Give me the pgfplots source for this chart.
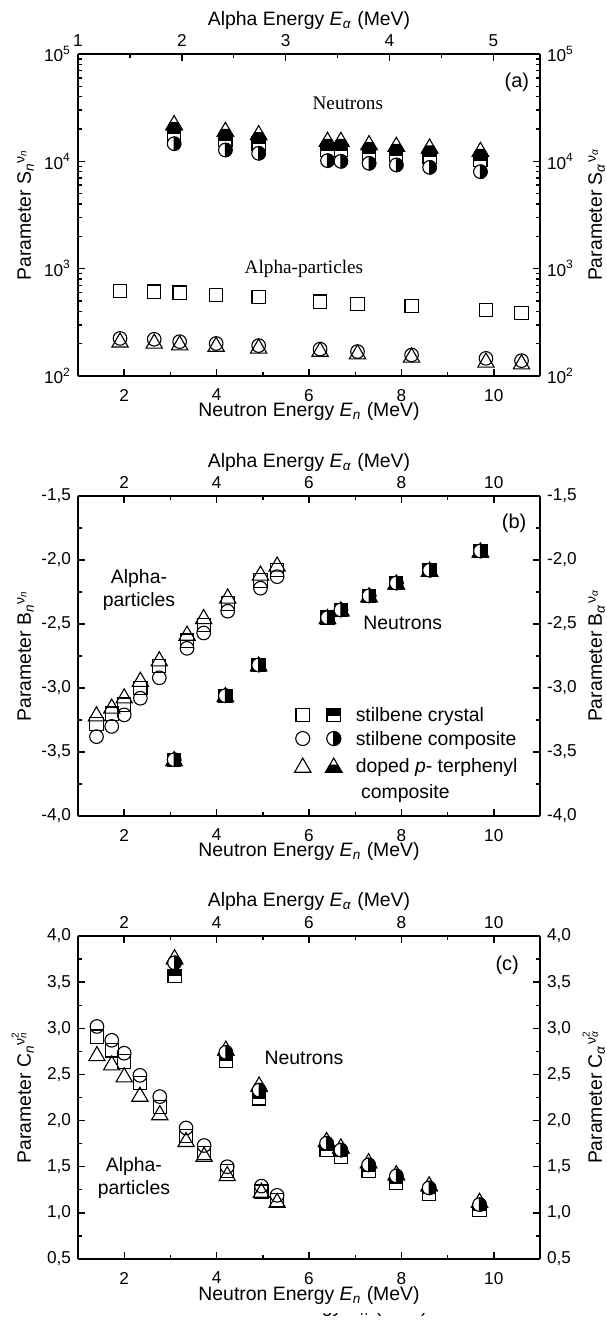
\documentclass[border=0pt]{standalone}
\usepackage{fontspec}
\setmainfont{Liberation Sans}
\newfontfamily\serif{Liberation Serif}
\usepackage{pgfplots}
\pgfplotsset{compat=1.18}
\usetikzlibrary{plotmarks}

\newcommand{\lbl}{\fontsize{9.7}{11.6}\selectfont}
\newcommand{\tck}{\fontsize{8.6}{10}\selectfont}

% half filled marks for the neutron data
\pgfdeclareplotmark{sqhalf}{%
  \pgfsetfillcolor{white}%
  \pgfpathrectangle{\pgfqpoint{-\pgfplotmarksize}{-\pgfplotmarksize}}{\pgfqpoint{2\pgfplotmarksize}{2\pgfplotmarksize}}%
  \pgfusepathqfillstroke
  \pgfsetfillcolor{black}%
  \pgfpathrectangle{\pgfqpoint{-\pgfplotmarksize}{0pt}}{\pgfqpoint{2\pgfplotmarksize}{\pgfplotmarksize}}%
  \pgfusepathqfillstroke
}
\pgfdeclareplotmark{cirhalf}{%
  \pgfsetfillcolor{white}%
  \pgfpathcircle{\pgfpointorigin}{\pgfplotmarksize}%
  \pgfusepathqfillstroke
  \pgfsetfillcolor{black}%
  \pgfpathmoveto{\pgfqpoint{0pt}{\pgfplotmarksize}}%
  \pgfpatharc{90}{-90}{\pgfplotmarksize}%
  \pgfpathclose
  \pgfusepathqfillstroke
}
\pgfdeclareplotmark{trihalf}{%
  \pgfsetfillcolor{white}%
  \pgfpathmoveto{\pgfqpoint{0pt}{\pgfplotmarksize}}%
  \pgfpathlineto{\pgfqpointpolar{-150}{\pgfplotmarksize}}%
  \pgfpathlineto{\pgfqpointpolar{-30}{\pgfplotmarksize}}%
  \pgfpathclose
  \pgfusepathqfillstroke
  \pgfsetfillcolor{black}%
  \pgfpathmoveto{\pgfqpointpolar{-150}{\pgfplotmarksize}}%
  \pgfpathlineto{\pgfqpointpolar{-30}{\pgfplotmarksize}}%
  \pgfpathlineto{\pgfqpoint{0.433\pgfplotmarksize}{0.25\pgfplotmarksize}}%
  \pgfpathlineto{\pgfqpoint{-0.433\pgfplotmarksize}{0.25\pgfplotmarksize}}%
  \pgfpathclose
  \pgfusepathqfillstroke
}

\pgfplotsset{
  base/.style={scale only axis, width=231pt, tick align=inside,
    axis line style={line width=0.9pt},
    major tick length=3.6pt, minor tick length=2pt,
    every tick/.append style={line width=0.7pt, black},
    tick label style={font=\tck},
    label style={font=\lbl},
    /pgf/number format/assume math mode=true,
    clip=false},
  bot/.style={base, axis x line*=bottom, axis y line*=left,
    xlabel style={at={(rel axis cs:0.5,-0.127)}, anchor=base},
    ylabel style={at={(rel axis cs:-0.102,0.5)}, anchor=base},
    xticklabel style={yshift=-3pt}},
  top/.style={base, axis x line*=top, axis y line*=right,
    xlabel style={at={(rel axis cs:0.5,1.09)}, anchor=base},
    ylabel style={at={(rel axis cs:1.134,0.5)}, anchor=base}},
  comma/.style={yticklabel style={/pgf/number format/.cd, fixed, fixed zerofill, precision=1, use comma}},
  asq/.style={only marks, black, mark=square, mark size=3.3pt, mark options={line width=0.55pt}, forget plot},
  aci/.style={only marks, black, mark=o, mark size=3.4pt, mark options={line width=0.55pt}, forget plot},
  atr/.style={only marks, black, mark=triangle, mark size=4.7pt, mark options={line width=0.55pt}, forget plot},
  nsq/.style={only marks, black, mark=sqhalf, mark size=3.3pt, mark options={line width=0.55pt}, forget plot},
  nci/.style={only marks, black, mark=cirhalf, mark size=3.4pt, mark options={line width=0.55pt}, forget plot},
  ntr/.style={only marks, black, mark=trihalf, mark size=4.7pt, mark options={line width=0.55pt}, forget plot},
}

\begin{document}
\begin{tikzpicture}

% ---------------- (a) ----------------
\begin{axis}[bot, at={(39pt,-27pt)}, anchor=north west, height=161pt,
  xmin=1, xmax=11, xtick={2,4,6,8,10}, minor x tick num=1,
  ymode=log, ymin=100, ymax=100000,
  ytick={100,1000,10000,100000},
  yticklabels={10\textsuperscript{2},10\textsuperscript{3},10\textsuperscript{4},10\textsuperscript{5}},
  minor ytick={200,300,400,500,600,700,800,900,2000,3000,4000,5000,6000,7000,8000,9000,20000,30000,40000,50000,60000,70000,80000,90000},
  xlabel={Neutron Energy \textit{E}\textsubscript{\textit{n}} (MeV)},
  ylabel={Parameter S\textsubscript{\textit{n}}\raisebox{0.6ex}{\scriptsize ν\textsubscript{\textit{n}}}}]
\addplot[asq] coordinates {(1.91,624) (2.65,611) (3.20,598) (3.99,568) (4.91,548) (6.24,493) (7.05,469) (8.22,449) (9.83,412) (10.60,389)};
\addplot[aci] coordinates {(1.91,224) (2.65,220) (3.20,209) (3.99,201) (4.91,192) (6.24,178) (7.05,169) (8.22,157) (9.83,146) (10.60,139)};
\addplot[atr] coordinates {(1.91,206) (2.65,201) (3.20,194) (3.99,188) (4.91,181) (6.24,169) (7.05,160) (8.22,149) (9.83,134) (10.60,129)};
\addplot[nsq] coordinates {(3.08,18200) (4.19,15800) (4.91,14700) (6.40,12750) (6.69,12750) (7.30,11880) (7.89,11460) (8.61,11050) (9.71,10290)};
\addplot[ntr] coordinates {(3.08,21800) (4.19,18900) (4.91,17600) (6.40,15250) (6.69,15250) (7.30,14200) (7.89,13700) (8.61,13200) (9.71,12300)};
\addplot[nci] coordinates {(3.08,14600) (4.19,12750) (4.91,11880) (6.40,10150) (6.69,10000) (7.30,9580) (7.89,9250) (8.61,8790) (9.71,8010)};
\node[font=\fontsize{10}{12}\selectfont] at (rel axis cs:0.950,0.913) {(a)};
\node[font=\serif\fontsize{9.6}{11}\selectfont] at (rel axis cs:0.584,0.848) {Neutrons};
\node[font=\serif\fontsize{9.6}{11}\selectfont] at (rel axis cs:0.489,0.332) {Alpha-particles};
\end{axis}
\begin{axis}[top, at={(39pt,-27pt)}, anchor=north west, height=161pt,
  xmin=1, xmax=5.45, xtick={1,2,3,4,5}, minor x tick num=1,
  ymode=log, ymin=100, ymax=100000,
  ytick={100,1000,10000,100000},
  yticklabels={10\textsuperscript{2},10\textsuperscript{3},10\textsuperscript{4},10\textsuperscript{5}},
  minor ytick={200,300,400,500,600,700,800,900,2000,3000,4000,5000,6000,7000,8000,9000,20000,30000,40000,50000,60000,70000,80000,90000},
  xlabel={Alpha Energy \textit{E}\textsubscript{\textit{α}} (MeV)},
  ylabel={Parameter S\textsubscript{\textit{α}}\raisebox{0.6ex}{\scriptsize ν\textsubscript{\textit{α}}}}]
\end{axis}

% ---------------- (b) ----------------
\begin{axis}[bot, comma, at={(39pt,-248pt)}, anchor=north west, height=160pt,
  xmin=1, xmax=11, xtick={2,4,6,8,10}, minor x tick num=1,
  ymin=-4, ymax=-1.5, ytick={-4,-3.5,...,-1.5}, minor y tick num=1,
  xlabel={Neutron Energy \textit{E}\textsubscript{\textit{n}} (MeV)},
  ylabel={Parameter B\textsubscript{\textit{n}}\raisebox{0.6ex}{\scriptsize ν\textsubscript{\textit{n}}}},
  legend style={draw=none, fill=none, at={(rel axis cs:0.455,0.3625)}, anchor=north west,
    font=\fontsize{9.7}{13}\selectfont, cells={anchor=base west}, nodes={inner ysep=1.6pt}}]
\addplot[asq] coordinates {(1.40,-3.28) (1.73,-3.20) (2.00,-3.13) (2.35,-3.00) (2.76,-2.83) (3.36,-2.63) (3.72,-2.51) (4.24,-2.34) (4.95,-2.16) (5.31,-2.08)};
\addplot[aci] coordinates {(1.40,-3.38) (1.73,-3.30) (2.00,-3.21) (2.35,-3.08) (2.76,-2.92) (3.36,-2.69) (3.72,-2.57) (4.24,-2.40) (4.95,-2.22) (5.31,-2.13)};
\addplot[atr] coordinates {(1.40,-3.22) (1.73,-3.16) (2.00,-3.08) (2.35,-2.95) (2.76,-2.79) (3.36,-2.59) (3.72,-2.46) (4.24,-2.30) (4.95,-2.12) (5.31,-2.05)};
\addplot[nsq] coordinates {(3.08,-3.56) (4.19,-3.06) (4.91,-2.82) (6.40,-2.45) (6.69,-2.39) (7.30,-2.28) (7.89,-2.18) (8.61,-2.08) (9.71,-1.93)};
\addplot[ntr] coordinates {(3.08,-3.57) (4.19,-3.07) (4.91,-2.83) (6.40,-2.46) (6.69,-2.40) (7.30,-2.29) (7.89,-2.19) (8.61,-2.09) (9.71,-1.94)};
\addplot[nci] coordinates {(3.08,-3.56) (4.19,-3.06) (4.91,-2.82) (6.40,-2.45) (6.69,-2.39) (7.30,-2.28) (7.89,-2.18) (8.61,-2.08) (9.71,-1.93)};
\addlegendimage{legend image code/.code={%
  \path[draw=none] (0pt,0pt) -- (28pt,0pt);
  \draw plot[only marks, mark=square, mark size=3.4pt, mark options={line width=0.55pt}] coordinates {(3.5pt,3.3pt)};
  \draw plot[only marks, mark=sqhalf, mark size=3.4pt, mark options={line width=0.55pt}] coordinates {(19pt,3.3pt)};}}
\addlegendentry{stilbene crystal}
\addlegendimage{legend image code/.code={%
  \path[draw=none] (0pt,0pt) -- (28pt,0pt);
  \draw plot[only marks, mark=o, mark size=3.5pt, mark options={line width=0.55pt}] coordinates {(3.5pt,3.3pt)};
  \draw plot[only marks, mark=cirhalf, mark size=3.5pt, mark options={line width=0.55pt}] coordinates {(19pt,3.3pt)};}}
\addlegendentry{stilbene composite}
\addlegendimage{legend image code/.code={%
  \path[draw=none] (0pt,0pt) -- (28pt,0pt);
  \draw plot[only marks, mark=triangle, mark size=4.7pt, mark options={line width=0.55pt}] coordinates {(3.5pt,2.6pt)};
  \draw plot[only marks, mark=trihalf, mark size=4.7pt, mark options={line width=0.55pt}] coordinates {(19pt,2.6pt)};}}
\addlegendentry{\begin{tabular}[t]{@{}l@{}}doped \textit{p}- terphenyl\\\ composite\end{tabular}}
\node[font=\fontsize{10}{12}\selectfont] at (rel axis cs:0.944,0.916) {(b)};
\node[font=\lbl, align=center] at (rel axis cs:0.132,0.706) {Alpha-\\particles};
\node[font=\lbl] at (rel axis cs:0.703,0.603) {Neutrons};
\end{axis}
\begin{axis}[top, comma, at={(39pt,-248pt)}, anchor=north west, height=160pt,
  xmin=1, xmax=11, xtick={2,4,6,8,10}, minor x tick num=1,
  ymin=-4, ymax=-1.5, ytick={-4,-3.5,...,-1.5}, minor y tick num=1,
  xlabel={Alpha Energy \textit{E}\textsubscript{\textit{α}} (MeV)},
  ylabel={Parameter B\textsubscript{\textit{α}}\raisebox{0.6ex}{\scriptsize ν\textsubscript{\textit{α}}}}]
\end{axis}

% ---------------- (c) ----------------
\begin{axis}[bot, comma, at={(39pt,-468pt)}, anchor=north west, height=161.5pt,
  xmin=1, xmax=11, xtick={2,4,6,8,10}, minor x tick num=1,
  ymin=0.5, ymax=4, ytick={0.5,1,...,4}, minor y tick num=1,
  xlabel={Neutron Energy \textit{E}\textsubscript{\textit{n}} (MeV)},
  ylabel={Parameter C\textsubscript{\textit{n}}\raisebox{0.6ex}{\scriptsize ν\rlap{\textsuperscript{2}}\textsubscript{\textit{n}}}}]
\addplot[asq] coordinates {(1.41,2.91) (1.73,2.76) (2.00,2.64) (2.34,2.41) (2.77,2.15) (3.34,1.83) (3.73,1.65) (4.23,1.45) (4.97,1.23) (5.31,1.14)};
\addplot[aci] coordinates {(1.41,3.02) (1.73,2.87) (2.00,2.73) (2.34,2.49) (2.77,2.26) (3.34,1.92) (3.73,1.73) (4.23,1.50) (4.97,1.29) (5.31,1.19)};
\addplot[atr] coordinates {(1.41,2.70) (1.73,2.60) (2.00,2.47) (2.34,2.26) (2.77,2.06) (3.34,1.77) (3.73,1.61) (4.23,1.40) (4.97,1.22) (5.31,1.11)};
\addplot[nsq] coordinates {(3.09,3.57) (4.20,2.65) (4.92,2.24) (6.38,1.68) (6.69,1.61) (7.29,1.45) (7.89,1.32) (8.60,1.21) (9.69,1.03)};
\addplot[ntr] coordinates {(3.09,3.75) (4.20,2.76) (4.92,2.37) (6.38,1.77) (6.69,1.70) (7.29,1.54) (7.89,1.41) (8.60,1.29) (9.69,1.11)};
\addplot[nci] coordinates {(3.09,3.71) (4.20,2.74) (4.92,2.33) (6.38,1.755) (6.69,1.68) (7.29,1.52) (7.89,1.40) (8.60,1.27) (9.69,1.09)};
\node[font=\fontsize{10}{12}\selectfont] at (rel axis cs:0.929,0.910) {(c)};
\node[font=\lbl] at (rel axis cs:0.489,0.622) {Neutrons};
\node[font=\lbl, align=center] at (rel axis cs:0.121,0.251) {Alpha-\\particles};
\end{axis}
\begin{axis}[top, comma, at={(39pt,-468pt)}, anchor=north west, height=161.5pt,
  xmin=1, xmax=11, xtick={2,4,6,8,10}, minor x tick num=1,
  ymin=0.5, ymax=4, ytick={0.5,1,...,4}, minor y tick num=1,
  xlabel={Alpha Energy \textit{E}\textsubscript{\textit{α}} (MeV)},
  ylabel={Parameter C\textsubscript{\textit{α}}\raisebox{0.6ex}{\scriptsize ν\rlap{\textsuperscript{2}}\textsubscript{\textit{α}}}}]
\end{axis}

% scan fragment at the bottom edge: only the lowest part of a line shows
\begin{scope}
\clip (150pt,-656.6pt) rectangle (240pt,-662pt);
\node[font=\lbl, anchor=base, inner sep=0pt] at (158.5pt,-656.4pt) {\smash{Neutron Energy \textit{E}\textsubscript{\textit{n}} (MeV)}};
\end{scope}

\pgfresetboundingbox
\useasboundingbox (0pt,0pt) rectangle (303pt,-661.5pt);
\end{tikzpicture}
\end{document}
